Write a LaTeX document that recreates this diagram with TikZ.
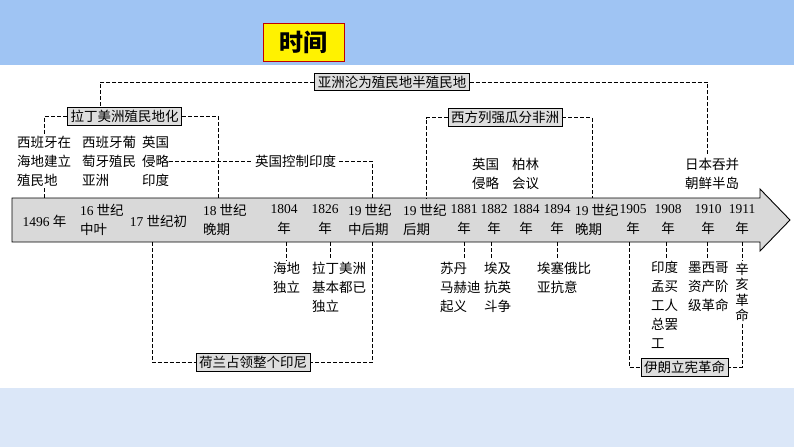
\documentclass[tikz,border=0pt]{standalone}
\usepackage{fontspec}
\setmainfont{Noto Sans CJK SC}
\newfontfamily\lat{Liberation Serif}
\definecolor{topblue}{RGB}{159,196,243}
\definecolor{botblue}{RGB}{219,231,248}
\definecolor{titlered}{RGB}{192,0,0}
\tikzset{
  headbox/.style={draw=titlered, line width=1pt, fill=yellow, minimum width=81pt, minimum height=38pt, font=\fontsize{24}{24}\selectfont\bfseries},
  tag/.style={draw=black, line width=0.8pt, fill=black!13, inner xsep=3pt, inner ysep=2.5pt, font=\fontsize{13.5}{19}\selectfont},
  note/.style={anchor=west, align=left, inner xsep=0pt, inner ysep=2pt, font=\fontsize{13.5}{19}\selectfont},
  yearlbl/.style={align=center, inner xsep=0pt, inner ysep=2pt, font=\fontsize{13.5}{20}\selectfont},
  link/.style={dash pattern=on 4pt off 2pt, line width=0.7pt}
}
\begin{document}
\begin{tikzpicture}[x=1pt,y=-1pt]
  \useasboundingbox (0,0) rectangle (794,447);
  \fill[topblue] (0,0) rectangle (794,65);
  \fill[botblue] (0,388) rectangle (794,447);
  \node[headbox] (title) at (303.5,42) {时间};

  \draw[line width=0.9pt, fill=black!15] (12,198) -- (760,198) -- (760,189) -- (790,220) -- (760,251) -- (760,242) -- (12,242) -- cycle;
  \coordinate (axtop) at (0,198);
  \coordinate (axbot) at (0,242);
  \coordinate (t18) at (218,198);
  \coordinate (t19m) at (372,198);
  \coordinate (t19l) at (426,198);
  \coordinate (t19e) at (592,198);
  \coordinate (b17) at (152,242);
  \coordinate (b1804) at (286,242);
  \coordinate (b1826) at (330,242);
  \coordinate (b19m) at (372,242);
  \coordinate (b1881) at (464,242);
  \coordinate (b1882) at (491,242);
  \coordinate (b1894) at (557,242);
  \coordinate (b1905) at (629,242);
  \coordinate (b1908) at (666,242);
  \coordinate (b1910) at (707,242);
  \coordinate (b1911) at (742,242);

  % labels on the time axis
  \node[yearlbl] (y1496) at (44.5,221) {{\lat 1496} 年};
  \node[note] (c16) at (80,220) {{\lat 16} 世纪\\中叶};
  \node[yearlbl] (c17) at (158.5,221) {{\lat 17} 世纪初};
  \node[note] (c18) at (203,220) {{\lat 18} 世纪\\晚期};
  \node[yearlbl] (y1804) at (284,220) {{\lat 1804}\\年};
  \node[yearlbl] (y1826) at (325,220) {{\lat 1826}\\年};
  \node[note] (c19m) at (348,220) {{\lat 19} 世纪\\中后期};
  \node[note] (c19l) at (403,220) {{\lat 19} 世纪\\后期};
  \node[yearlbl] (y1881) at (464,220) {{\lat 1881}\\年};
  \node[yearlbl] (y1882) at (494,220) {{\lat 1882}\\年};
  \node[yearlbl] (y1884) at (526,220) {{\lat 1884}\\年};
  \node[yearlbl] (y1894) at (557,220) {{\lat 1894}\\年};
  \node[note] (c19e) at (575,220) {{\lat 19} 世纪\\晚期};
  \node[yearlbl] (y1905) at (633,220) {{\lat 1905}\\年};
  \node[yearlbl] (y1908) at (668,220) {{\lat 1908}\\年};
  \node[yearlbl] (y1910) at (708,220) {{\lat 1910}\\年};
  \node[yearlbl] (y1911) at (742,220) {{\lat 1911}\\年};

  % events above
  \node[tag] (asia) at (392,82) {亚洲沦为殖民地半殖民地};
  \node[tag] (latam) at (124.5,116.5) {拉丁美洲殖民地化};
  \node[tag] (africa) at (505,117.5) {西方列强瓜分非洲};
  \node[note] (spanish) at (17,161) {西班牙在\\海地建立\\殖民地};
  \node[note] (portug) at (82,161) {西班牙葡\\萄牙殖民\\亚洲};
  \node[note] (engind) at (142,161) {英国\\侵略\\印度};
  \node[note, inner xsep=3pt] (ctrl) at (252,161) {英国控制印度};
  \node[note] (ukinv) at (472,174) {英国\\侵略};
  \node[note] (berlin) at (512,174) {柏林\\会议};
  \node[note] (japan) at (685,174) {日本吞并\\朝鲜半岛};

  % events below
  \node[note] (haitiind) at (273,278) {海地\\独立};
  \node[note] (latind) at (312,287) {拉丁美洲\\基本都已\\独立};
  \node[note] (sudan) at (440,287) {苏丹\\马赫迪\\起义};
  \node[note] (egypt) at (484,287) {埃及\\抗英\\斗争};
  \node[note] (ethio) at (537,278) {埃塞俄比\\亚抗意};
  \node[note] (bombay) at (651,305) {印度\\孟买\\工人\\总罢\\工};
  \node[note] (mexico) at (688,287) {墨西哥\\资产阶\\级革命};
  \node[note, anchor=center, align=center, font=\fontsize{13.5}{15.5}\selectfont] (xinhai) at (742,292.5) {辛\\亥\\革\\命};
  \node[tag] (dutch) at (253,362.5) {荷兰占领整个印尼};
  \node[tag] (iran) at (684.5,367.5) {伊朗立宪革命};

  \draw[link] (asia.west) -| ([xshift=-24pt]latam.north);
  \draw[link] (asia.east) -| ([xshift=-5pt]japan.north);
  \draw[link] (latam.west) -| (spanish.north);
  \draw[link] (spanish.south) -- (spanish.south |- axtop);
  \draw[link] (latam.east) -| (t18);
  \draw[link] (engind.east) -- (ctrl.west);
  \draw[link] (ctrl.east) -| (t19m);
  \draw[link] (africa.west) -| (t19l);
  \draw[link] (africa.east) -| (t19e);
  \draw[link] (b17) |- (dutch.west);
  \draw[link] (b19m) |- (dutch.east);
  \draw[link] (b1804) -- (b1804 |- haitiind.north);
  \draw[link] (b1826) -- (b1826 |- latind.north);
  \draw[link] (b1881) -- (b1881 |- sudan.north);
  \draw[link] (b1882) -- (b1882 |- egypt.north);
  \draw[link] (b1894) -- (b1894 |- ethio.north);
  \draw[link] (b1905) |- (iran.west);
  \draw[link] (b1908) -- (b1908 |- bombay.north);
  \draw[link] (b1910) -- (b1910 |- mexico.north);
  \draw[link] (b1911) -- (xinhai.north);
  \draw[link] (xinhai.south) |- (iran.east);
\end{tikzpicture}
\end{document}
